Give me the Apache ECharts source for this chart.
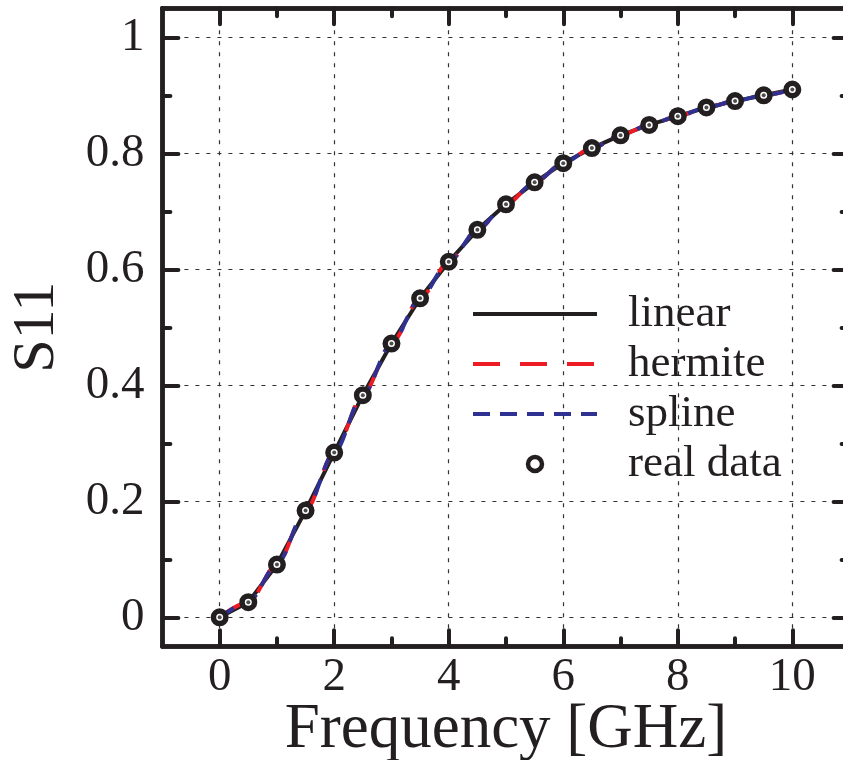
<!DOCTYPE html>
<html>
<head>
<meta charset="utf-8">
<script src="https://cdn.jsdelivr.net/npm/echarts@6/dist/echarts.min.js"></script>
<style>
html,body{margin:0;padding:0;background:#fff;}
#chart{width:843px;height:760px;}
</style>
</head>
<body>
<div id="chart"></div>
<script>
// ---- data ----
const freq = [0,0.5,1,1.5,2,2.5,3,3.5,4,4.5,5,5.5,6,6.5,7,7.5,8,8.5,9,9.5,10];
const s11  = [0,0.026,0.091,0.184,0.284,0.383,0.472,0.550,0.613,0.668,0.712,0.750,0.783,0.809,0.831,0.849,0.864,0.879,0.890,0.900,0.910];
const xMajorTicks = [0,2,4,6,8,10];
const xMinorTicks = [1,3,5,7,9];
const yMajorTicks = [0,0.2,0.4,0.6,0.8,1];
const yMinorTicks = [0.1,0.3,0.5,0.7,0.9];
const seriesNames = ['linear','hermite','spline','real data'];

const pts = freq.map((f,i)=>[f,s11[i]]);
const FONT = '"Liberation Serif","Times New Roman",serif';
const INK = '#231f20';
const CLEAR = 'rgba(0,0,0,0)';
const X_MIN=-1, X_MAX=11, Y_MIN=-0.05, Y_MAX=1.05;

function xAx(pos, ticks, len, opts){
  return Object.assign({
    type:'value', position:pos, min:X_MIN, max:X_MAX, gridIndex:0,
    axisLine:{show:true, onZero:false, lineStyle:{color:INK, width:4.5}},
    axisTick:{show:true, inside:true, length:len, customValues:ticks, lineStyle:{color:INK, width:4, cap:'round'}},
    axisLabel:{show:false},
    splitLine:{show:false}
  }, opts||{});
}
function yAx(pos, ticks, len, opts){
  return Object.assign({
    type:'value', position:pos, min:Y_MIN, max:Y_MAX, gridIndex:0,
    axisLine:{show:true, onZero:false, lineStyle:{color:INK, width:4.5}},
    axisTick:{show:true, inside:true, length:len, customValues:ticks, lineStyle:{color:INK, width:4, cap:'round'}},
    axisLabel:{show:false},
    splitLine:{show:false}
  }, opts||{});
}

const gridLine = {show:true, lineStyle:{color:'#333', width:1.2, type:[4,7]}};

const legendData = seriesNames.map(n => n === 'real data'
  ? {name:n, itemStyle:{color:'#fff', borderColor:INK, borderWidth:4.5}}
  : {name:n});

const option = {
  animation:false,
  backgroundColor:'#fff',
  grid:{left:162.4, right:-6.6, top:8.3, bottom:113.7, containLabel:false, outerBoundsMode:'none'},
  xAxis:[
    xAx('bottom', xMajorTicks, 16, {
      axisLabel:{show:true, customValues:xMajorTicks, margin:8, color:INK, fontFamily:FONT, fontSize:47},
      splitLine:gridLine,
      name:'Frequency [GHz]', nameLocation:'middle', nameGap:53, nameMoveOverlap:false,
      nameTextStyle:{color:INK, fontFamily:FONT, fontSize:63}
    }),
    xAx('bottom', xMinorTicks, 8),
    xAx('top', xMajorTicks, 16),
    xAx('top', xMinorTicks, 8)
  ],
  yAxis:[
    yAx('left', yMajorTicks, 16, {
      axisLabel:{show:true, customValues:yMajorTicks, margin:18, color:INK, fontFamily:FONT, fontSize:47,
        formatter:v=>String(+v.toFixed(1))},
      splitLine:gridLine,
      name:'S11', nameLocation:'middle', nameGap:95, nameRotate:90, nameMoveOverlap:false,
      nameTextStyle:{color:INK, fontFamily:FONT, fontSize:60}
    }),
    yAx('left', yMinorTicks, 8),
    yAx('right', yMajorTicks, 16),
    yAx('right', yMinorTicks, 8)
  ],
  legend:{
    data:legendData,
    orient:'vertical', left:466, top:284,
    itemWidth:124, itemHeight:14, itemGap:0,
    lineStyle:{width:4},
    textStyle:{color:INK, fontFamily:FONT, fontSize:45, lineHeight:50, padding:[0,0,0,26]}
  },
  series:[
    {name:'linear', type:'line', data:pts, symbol:'none', smooth:false,
     lineStyle:{color:INK, width:4}, itemStyle:{color:CLEAR, borderColor:CLEAR, borderWidth:0}, z:2},
    {name:'hermite', type:'line', data:pts, symbol:'none', smooth:0.3, smoothMonotone:'x',
     lineStyle:{color:'#ed1c24', width:4, type:[27,20]}, itemStyle:{color:CLEAR, borderColor:CLEAR, borderWidth:0}, z:3},
    {name:'spline', type:'line', data:pts, symbol:'none', smooth:0.3, smoothMonotone:'x',
     lineStyle:{color:'#2e3192', width:4, type:[17,10]}, itemStyle:{color:CLEAR, borderColor:CLEAR, borderWidth:0}, z:4},
    {name:'real data', type:'scatter', data:pts, symbol:'circle', symbolSize:12.5,
     itemStyle:{color:'#fff', borderColor:INK, borderWidth:5.5, opacity:1}, z:5},
    {name:'real data center', type:'scatter', data:pts, symbol:'circle', symbolSize:4,
     itemStyle:{color:INK}, z:6, silent:true}
  ]
};

const chart = echarts.init(document.getElementById('chart'), null, {renderer:'canvas'});
chart.setOption(option);
</script>
</body>
</html>
